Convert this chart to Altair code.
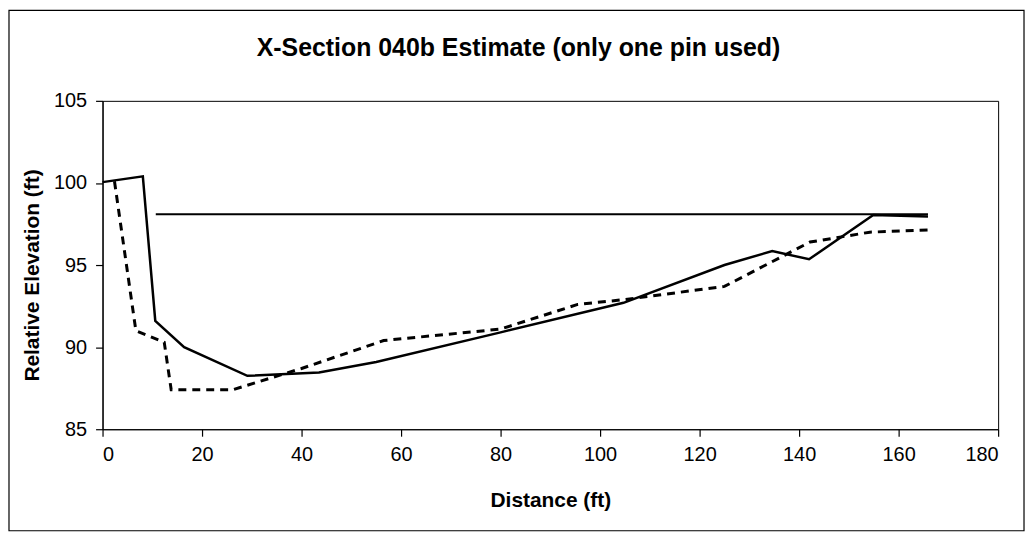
import altair as alt
import pandas as pd

# Measured profile (solid)
measured_x = [0, 8.1, 10.6, 16.4, 29.1, 43.5, 55, 80, 104.7, 125, 134.6, 142.0, 154.9, 165.9]
measured_y = [100.05, 100.4, 91.6, 90.0, 88.25, 88.45, 89.1, 90.9, 92.7, 95.0, 95.85, 95.35, 98.05, 97.95]

# Estimated profile (dashed)
estimate_x = [2.4, 6.7, 12.4, 13.8, 26.1, 40, 56.5, 80, 95.5, 105, 125, 142.2, 154.2, 166.6]
estimate_y = [100.1, 91.0, 90.3, 87.4, 87.4, 88.7, 90.4, 91.1, 92.6, 92.9, 93.7, 96.4, 97.0, 97.15]

# Water surface (horizontal)
water_x = [10.7, 165.9]
water_y = [98.1, 98.1]

TITLE = "X-Section 040b Estimate (only one pin used)"
FONT = "Liberation Sans"

W, H = 900, 330

measured = pd.DataFrame({"x": measured_x, "y": measured_y})
estimate = pd.DataFrame({"x": estimate_x, "y": estimate_y})
water = pd.DataFrame({"x": water_x, "y": water_y})

xscale = alt.Scale(domain=[0, 180], nice=False, zero=False)
yscale = alt.Scale(domain=[85, 105], nice=False, zero=False)

xaxis = alt.Axis(values=list(range(0, 181, 20)), title="Distance (ft)", grid=False,
                 tickSize=7, labelPadding=8, titleY=72, titleBaseline="middle")
yaxis = alt.Axis(values=[85, 90, 95, 100, 105], title="Relative Elevation (ft)", grid=False,
                 tickSize=7, labelPadding=9, titleX=-70, titleY=175,
                 titleBaseline="middle", titleAlign="center", titleAngle=270)

base_line = alt.Chart(measured).mark_line(color="black", strokeWidth=2.5).encode(
    x=alt.X("x:Q", scale=xscale, axis=xaxis),
    y=alt.Y("y:Q", scale=yscale, axis=yaxis),
)

est_line = alt.Chart(estimate).mark_line(color="black", strokeWidth=3, strokeDash=[8, 6]).encode(
    x=alt.X("x:Q", scale=xscale),
    y=alt.Y("y:Q", scale=yscale),
)

water_line = alt.Chart(water).mark_line(color="black", strokeWidth=2).encode(
    x=alt.X("x:Q", scale=xscale),
    y=alt.Y("y:Q", scale=yscale),
)

title_text = alt.Chart(pd.DataFrame({"t": [TITLE]})).mark_text(
    font=FONT, fontSize=25, fontWeight="bold", color="black", baseline="middle", align="center"
).encode(x=alt.value(418), y=alt.value(-53), text="t:N")

border = alt.Chart(pd.DataFrame({"a": [0]})).mark_rect(
    fill="white", fillOpacity=0, stroke="black", strokeWidth=1.2, clip=False
).encode(x=alt.value(-94), x2=alt.value(926), y=alt.value(-91), y2=alt.value(432))

chart = alt.layer(border, water_line, base_line, est_line, title_text).properties(
    width=W, height=H,
    padding={"left": 95, "top": 92, "right": 28, "bottom": 106},
    autosize=alt.AutoSizeParams(type="none"),
    background="white",
).configure_view(stroke="black", strokeWidth=1).configure_axis(
    domainColor="black", tickColor="black", labelColor="black", titleColor="black",
    labelFont=FONT, titleFont=FONT, labelFontSize=20, titleFontSize=21,
    titleFontWeight="bold", domainWidth=1.2, tickWidth=1.2,
)

chart.save("out.html", embed_options={"renderer": "svg", "actions": False})
